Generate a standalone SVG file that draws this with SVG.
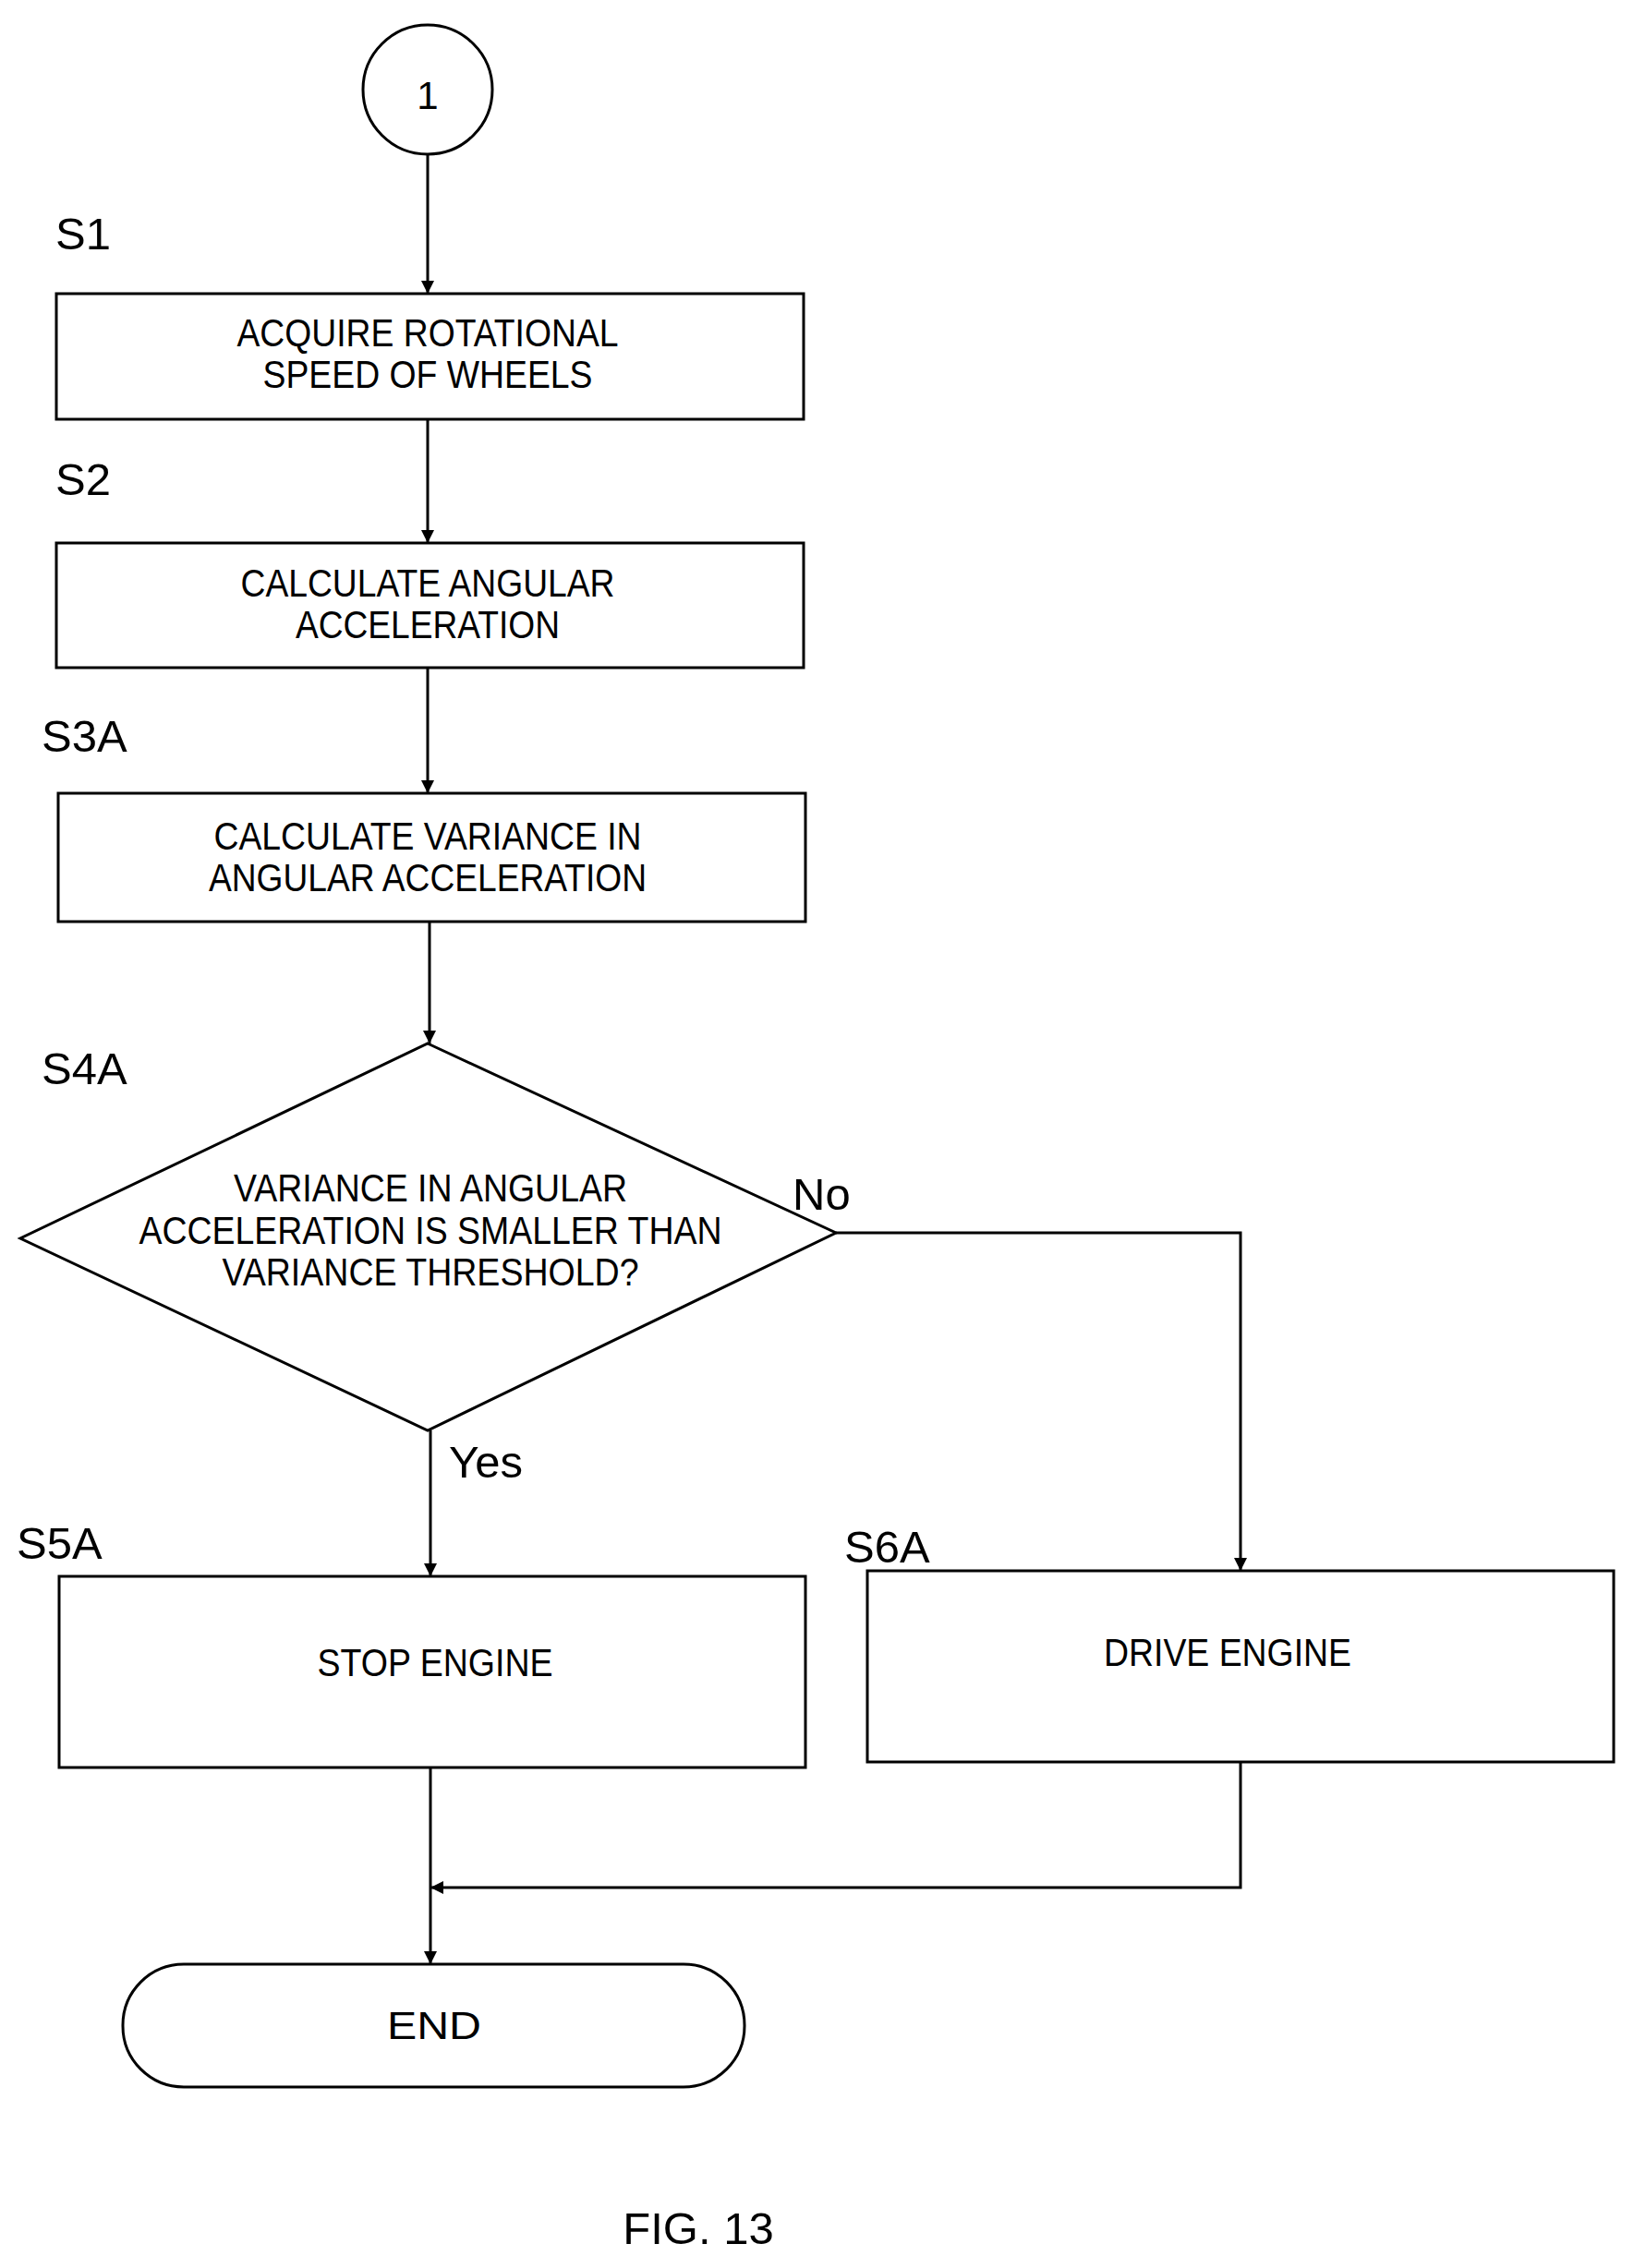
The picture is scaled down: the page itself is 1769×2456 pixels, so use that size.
<svg xmlns="http://www.w3.org/2000/svg" width="1769" height="2456" viewBox="0 0 1769 2456">
<style>
.s{fill:#fff;stroke:#000;stroke-width:3}
.t{font-family:"Liberation Sans",Arial,sans-serif;font-size:42px;text-anchor:middle;fill:#000}
.l{font-family:"Liberation Sans",Arial,sans-serif;font-size:49px;fill:#000}
.c{fill:none;stroke:#000;stroke-width:3}
</style>
<defs><marker id="a" viewBox="0 0 10 10" refX="10" refY="5" markerWidth="14" markerHeight="14" markerUnits="userSpaceOnUse" orient="auto"><path d="M0,0L10,5L0,10z" fill="#000"/></marker></defs>
<rect width="1769" height="2456" fill="#fff"/>
<g id="connectors">
<path class="c" d="M463,167V318" marker-end="url(#a)"/>
<path class="c" d="M463,454V588" marker-end="url(#a)"/>
<path class="c" d="M463,723V859" marker-end="url(#a)"/>
<path class="c" d="M465,998V1130" marker-end="url(#a)"/>
<path class="c" d="M466,1549V1707" marker-end="url(#a)"/>
<path class="c" d="M905,1335H1343V1701" marker-end="url(#a)"/>
<path class="c" d="M466,1914V2127" marker-end="url(#a)"/>
<path class="c" d="M1343,1908V2044H466" marker-end="url(#a)"/>
<text class="l" x="858" y="1310">No</text>
<text class="l" x="486" y="1600">Yes</text>
</g>
<g id="start"><circle class="s" cx="463" cy="97" r="70"/><text class="t" x="463" y="118" font-size="60">1</text></g>
<g id="S1"><text class="l" x="60" y="270">S1</text><rect class="s" x="61" y="318" width="809" height="136"/>
<text class="t" x="463" y="375" textLength="413" lengthAdjust="spacingAndGlyphs">ACQUIRE ROTATIONAL</text>
<text class="t" x="463" y="420" textLength="357" lengthAdjust="spacingAndGlyphs">SPEED OF WHEELS</text></g>
<g id="S2"><text class="l" x="60" y="536">S2</text><rect class="s" x="61" y="588" width="809" height="135"/>
<text class="t" x="463" y="646" textLength="405" lengthAdjust="spacingAndGlyphs">CALCULATE ANGULAR</text>
<text class="t" x="463" y="691" textLength="286" lengthAdjust="spacingAndGlyphs">ACCELERATION</text></g>
<g id="S3A"><text class="l" x="45" y="814">S3A</text><rect class="s" x="63" y="859" width="809" height="139"/>
<text class="t" x="463" y="920" textLength="463" lengthAdjust="spacingAndGlyphs">CALCULATE VARIANCE IN</text>
<text class="t" x="463" y="965" textLength="474" lengthAdjust="spacingAndGlyphs">ANGULAR ACCELERATION</text></g>
<g id="S4A"><text class="l" x="45" y="1174">S4A</text><path class="s" d="M463,1130L905,1335L463,1549L22,1341Z"/>
<text class="t" x="466" y="1301" textLength="426" lengthAdjust="spacingAndGlyphs">VARIANCE IN ANGULAR</text>
<text class="t" x="466" y="1347" textLength="631" lengthAdjust="spacingAndGlyphs">ACCELERATION IS SMALLER THAN</text>
<text class="t" x="466" y="1392" textLength="451" lengthAdjust="spacingAndGlyphs">VARIANCE THRESHOLD?</text></g>
<g id="S5A"><text class="l" x="18" y="1688">S5A</text><rect class="s" x="64" y="1707" width="808" height="207"/>
<text class="t" x="471" y="1815" textLength="255" lengthAdjust="spacingAndGlyphs">STOP ENGINE</text></g>
<g id="S6A"><text class="l" x="914" y="1692">S6A</text><rect class="s" x="939" y="1701" width="808" height="207"/>
<text class="t" x="1329" y="1804" textLength="268" lengthAdjust="spacingAndGlyphs">DRIVE ENGINE</text></g>
<g id="end"><rect class="s" x="133" y="2127" width="673" height="133" rx="66"/>
<text class="t" x="470" y="2208" textLength="102" lengthAdjust="spacingAndGlyphs">END</text></g>
<text class="l" x="756" y="2430" font-size="80" text-anchor="middle">FIG. 13</text>
</svg>
